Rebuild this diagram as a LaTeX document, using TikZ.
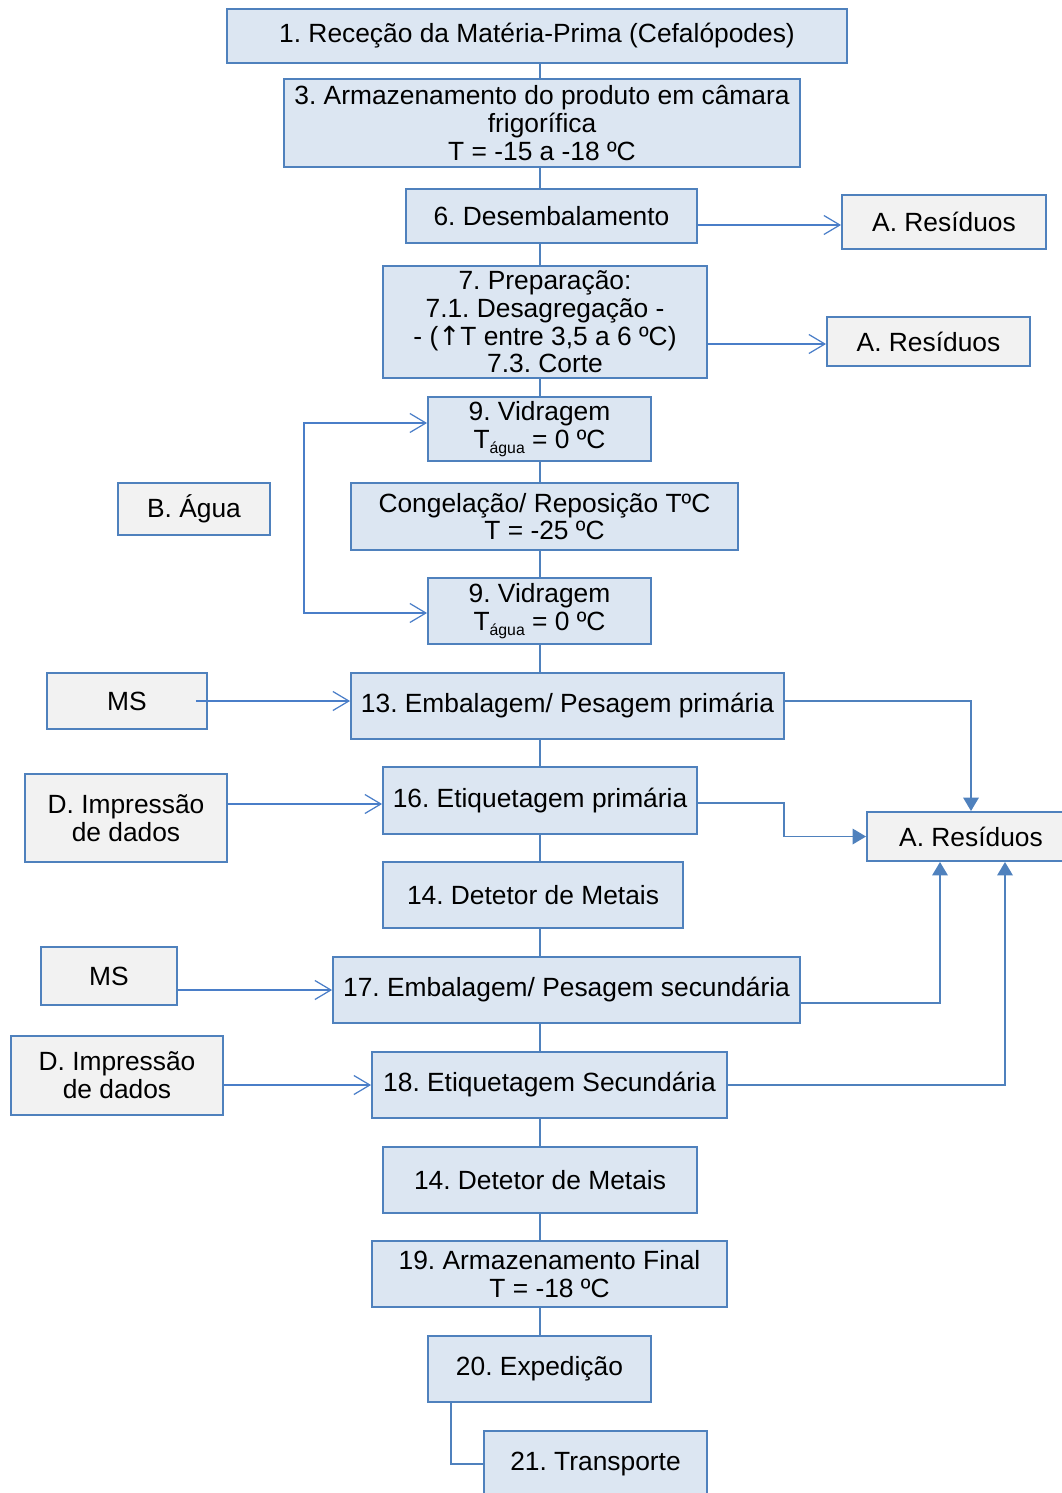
\documentclass[tikz,border=0pt]{standalone}
\usepackage{fontspec}
\setmainfont{Liberation Sans}
\newfontfamily\symfont{DejaVu Sans}
\usepackage{tikz}
\usetikzlibrary{arrows.meta,positioning,backgrounds}

\definecolor{boxblue}{HTML}{DCE6F2}
\definecolor{boxgrey}{HTML}{F2F2F2}
\definecolor{edgeblue}{HTML}{4F81BD}
\definecolor{linkblue}{HTML}{4A7EC8}

\newcommand{\tagua}{T\raisebox{-0.35ex}{\fontsize{9}{9}\selectfont água}}
\frenchspacing

\begin{document}
\begin{tikzpicture}[
    font=\fontsize{15}{15.8}\selectfont,
    x=0.02cm, y=-0.02cm,
    >={Straight Barb[length=3.2mm,width=3.8mm]},
    module/.style={
        draw=edgeblue,
        line width=1.1pt,
        align=center,
        inner sep=2pt
    },
    stepbox/.style={
        module,
        fill=boxblue
    },
    sidebox/.style={
        module,
        fill=boxgrey
    },
    flow/.style={
        line width=1.1pt,
        draw=edgeblue
    },
    flowarrow/.style={
        flow,
        -{Triangle[length=2.7mm,width=3.1mm]}
    },
    thinarrow/.style={
        ->,
        line width=0.7pt,
        draw=linkblue
    }
]

% ---------------------------------------------------------
% Canvas
% ---------------------------------------------------------
\path[use as bounding box] (0,0) rectangle (1061,1493);
\coordinate (spine) at (540,0);

% ---------------------------------------------------------
% Main flow
% ---------------------------------------------------------
\node[stepbox, minimum width=12.40cm, minimum height=1.08cm] (rec) at (537,36)
    {1. Receção da Matéria-Prima (Cefalópodes)};

\node[stepbox, minimum width=10.32cm, minimum height=1.76cm] (arm) at (542,123)
    {3. Armazenamento do produto em câmara\\frigorífica\\T = -15 a -18 ºC};

\node[stepbox, minimum width=5.82cm, minimum height=1.08cm] (des) at (551.5,216)
    {6. Desembalamento};

\node[stepbox, minimum width=6.48cm, minimum height=2.24cm] (prep) at (545,322)
    {7. Preparação:\\7.1. Desagregação -\\- ({\symfont ↑}T entre 3,5 a 6 ºC)\\7.3. Corte};

\node[stepbox, minimum width=4.46cm, minimum height=1.28cm] (vid1) at (539.5,429)
    {9. Vidragem\\\tagua{} = 0 ºC};

\node[stepbox, minimum width=7.74cm, minimum height=1.34cm] (cong) at (544.5,516.5)
    {Congelação/ Reposição TºC\\T = -25 ºC};

\node[stepbox, minimum width=4.46cm, minimum height=1.32cm] (vid2) at (539.5,611)
    {9. Vidragem\\\tagua{} = 0 ºC};

\node[stepbox, minimum width=8.66cm, minimum height=1.32cm] (emb1) at (567.5,706)
    {13. Embalagem/ Pesagem primária};

\node[stepbox, minimum width=6.28cm, minimum height=1.34cm] (et1) at (540,800.5)
    {16. Etiquetagem primária};

\node[stepbox, minimum width=6.00cm, minimum height=1.32cm] (det1) at (533,895)
    {14. Detetor de Metais};

\node[stepbox, minimum width=9.34cm, minimum height=1.32cm] (emb2) at (566.5,990)
    {17. Embalagem/ Pesagem secundária};

\node[stepbox, minimum width=7.10cm, minimum height=1.32cm] (et2) at (549.5,1085)
    {18. Etiquetagem Secundária};

\node[stepbox, minimum width=6.28cm, minimum height=1.32cm] (det2) at (540,1180)
    {14. Detetor de Metais};

\node[stepbox, minimum width=7.10cm, minimum height=1.32cm] (arf) at (549.5,1274)
    {19. Armazenamento Final\\T = -18 ºC};

\node[stepbox, minimum width=4.46cm, minimum height=1.32cm] (exp) at (539.5,1369)
    {20. Expedição};

\node[stepbox, minimum width=4.46cm, minimum height=1.32cm] (tra) at (595.5,1464)
    {21. Transporte};

% ---------------------------------------------------------
% Side boxes
% ---------------------------------------------------------
\node[sidebox, minimum width=4.08cm, minimum height=1.08cm] (res1) at (944,222)
    {A. Resíduos};
\node[sidebox, minimum width=4.06cm, minimum height=0.98cm] (res2) at (928.5,341.5)
    {A. Resíduos};
\node[sidebox, minimum width=3.04cm, minimum height=1.04cm] (agua) at (194,509)
    {B. Água};
\node[sidebox, minimum width=3.20cm, minimum height=1.12cm] (ms1) at (127,701)
    {MS};
\node[sidebox, minimum width=4.04cm, minimum height=1.76cm] (imp1) at (126,818)
    {D. Impressão\\de dados};
\node[sidebox, minimum width=4.16cm, minimum height=0.98cm] (res3) at (971,836.5)
    {A. Resíduos};
\node[sidebox, minimum width=2.72cm, minimum height=1.16cm] (ms2) at (109,976)
    {MS};
\node[sidebox, minimum width=4.24cm, minimum height=1.58cm] (imp2) at (117,1075.5)
    {D. Impressão\\de dados};

% ---------------------------------------------------------
% Spine between steps
% ---------------------------------------------------------
\begin{scope}[on background layer]
\draw[flow] (rec.south -| spine) -- (arm.north -| spine);
\draw[flow] (arm.south -| spine) -- (des.north -| spine);
\draw[flow] (des.south -| spine) -- (prep.north -| spine);
\draw[flow] (prep.south -| spine) -- (vid1.north -| spine);
\draw[flow] (vid1.south -| spine) -- (cong.north -| spine);
\draw[flow] (cong.south -| spine) -- (vid2.north -| spine);
\draw[flow] (vid2.south -| spine) -- (emb1.north -| spine);
\draw[flow] (emb1.south -| spine) -- (et1.north -| spine);
\draw[flow] (et1.south -| spine) -- (det1.north -| spine);
\draw[flow] (det1.south -| spine) -- (emb2.north -| spine);
\draw[flow] (emb2.south -| spine) -- (et2.north -| spine);
\draw[flow] (et2.south -| spine) -- (det2.north -| spine);
\draw[flow] (det2.south -| spine) -- (arf.north -| spine);
\draw[flow] (arf.south -| spine) -- (exp.north -| spine);
\end{scope}
\draw[flow] ([xshift=-1.77cm]exp.south) |- (tra.west);

% ---------------------------------------------------------
% Waste and input links
% ---------------------------------------------------------
\draw[thinarrow] ([yshift=-0.06cm]des.east |- res1.west) -- ([yshift=-0.06cm]res1.west);
\draw[thinarrow] ([yshift=-0.05cm]prep.east |- res2.west) -- ([yshift=-0.05cm]res2.west);

\draw[thinarrow, <->] ([yshift=0.12cm]vid1.west) -- ++(-123,0) |- ([yshift=-0.04cm]vid2.west);

\draw[thinarrow] ([xshift=-0.24cm]ms1.east) -- (ms1.east -| emb1.west);
\draw[thinarrow] ([yshift=-0.07cm]et1.west -| imp1.east) -- ([yshift=-0.07cm]et1.west);
\draw[thinarrow] (emb2.west -| ms2.east) -- (emb2.west);
\draw[thinarrow] (et2.west -| imp2.east) -- (et2.west);

\draw[flowarrow] ([yshift=0.10cm]emb1.east) -| (res3.north);
\draw[flowarrow] ([yshift=-0.05cm]et1.east) -- ++(86,0) |- (res3.west);
\draw[flowarrow] ([yshift=-0.26cm]emb2.east) -| ([xshift=-0.62cm]res3.south);
\draw[flowarrow] (et2.east) -| ([xshift=0.68cm]res3.south);

\end{tikzpicture}
\end{document}
